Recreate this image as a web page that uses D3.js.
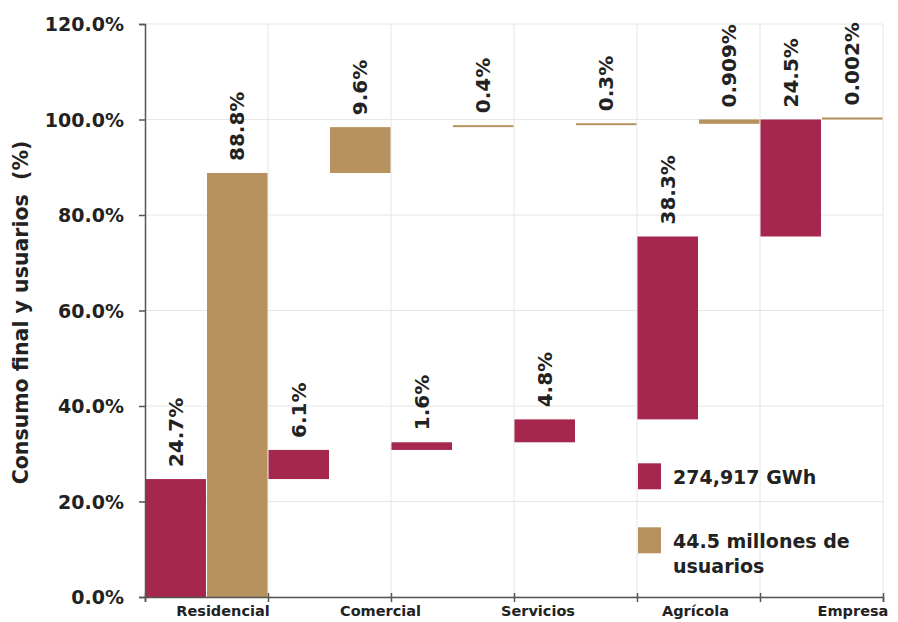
<!DOCTYPE html>
<html>
<head>
<meta charset="utf-8">
<script src="https://cdn.jsdelivr.net/npm/d3@7"></script>
<style>
  body { margin: 0; background: #fff; }
  text { font-family: "DejaVu Sans", sans-serif; font-weight: bold; fill: #222; }
</style>
</head>
<body>
<div id="chart"></div>
<script>
// consumo final (%) y usuarios (%) por sector
const consumo = [24.7, 6.1, 1.6, 4.8, 38.3, 24.5];
const usuarios = [88.8, 9.6, 0.4, 0.3, 0.909, 0.002];
const consumoLabels = ["24.7%", "6.1%", "1.6%", "4.8%", "38.3%", "24.5%"];
const usuariosLabels = ["88.8%", "9.6%", "0.4%", "0.3%", "0.909%", "0.002%"];
const axisLabels = ["Residencial", "Comercial", "Servicios", "Agrícola", "Empresa"];
const yTicks = [0, 20, 40, 60, 80, 100, 120];
const legendLabels = [["274,917 GWh"], ["44.5 millones de", "usuarios"]];

const W = 898, H = 622;
const margin = { top: 24, right: 15, bottom: 25, left: 145 };
const width = W - margin.left - margin.right,
  height = H - margin.top - margin.bottom;

const red = "#a5274d", tan = "#b7925f";

const svg = d3.select("#chart").append("svg")
  .attr("width", W).attr("height", H);
const g = svg.append("g").attr("transform", `translate(${margin.left},${margin.top})`);

// build waterfall pieces: each series stacks on itself
let acc1 = 0, acc2 = 0;
const bars = [];
consumo.forEach((v, i) => {
  bars.push({ slot: 2 * i, y0: acc1, y1: acc1 + v, color: red, label: consumoLabels[i] });
  acc1 += v;
  bars.push({ slot: 2 * i + 1, y0: acc2, y1: acc2 + usuarios[i], color: tan, label: usuariosLabels[i] });
  acc2 += usuarios[i];
});

const y = d3.scaleLinear().domain([0, 120]).range([height, 0]);
const x = d3.scaleBand().domain(d3.range(consumo.length * 2)).range([0, width]).padding(0);
const xg = d3.scaleLinear().domain([0, consumo.length]).range([0, width]);
const xl = d3.scalePoint().domain(axisLabels).range([78, 708]);

// grid
g.append("g").selectAll("line").data(yTicks).join("line")
  .attr("x1", 0).attr("x2", width)
  .attr("y1", d => y(d)).attr("y2", d => y(d))
  .attr("stroke", "#e6e6e6");
g.append("g").selectAll("line").data(d3.range(1, consumo.length + 1)).join("line")
  .attr("x1", d => xg(d)).attr("x2", d => xg(d))
  .attr("y1", 0).attr("y2", height)
  .attr("stroke", "#e6e6e6");

// bars
g.append("g").selectAll("rect").data(bars).join("rect")
  .attr("x", d => x(d.slot) + 0.5)
  .attr("width", x.bandwidth() - 1)
  .attr("y", d => Math.min(y(d.y1), y(d.y0) - 2))
  .attr("height", d => Math.max(2, y(d.y0) - y(d.y1)))
  .attr("fill", d => d.color);

// value labels (rotated)
g.append("g").selectAll("text").data(bars).join("text")
  .attr("transform", d => `translate(${x(d.slot) + x.bandwidth() / 2 + 7},${Math.min(y(d.y1), y(d.y0) - 2) - 12}) rotate(-90)`)
  .attr("font-size", 20)
  .text(d => d.label);

// y axis
const yAxis = g.append("g")
  .call(d3.axisLeft(y).tickValues(yTicks).tickFormat(d => d.toFixed(1) + "%").tickSize(6).tickPadding(15));
yAxis.select(".domain").attr("stroke", "#555").attr("stroke-width", 1.5);
yAxis.selectAll(".tick line").attr("stroke", "#555").attr("stroke-width", 1.5);
yAxis.selectAll(".tick text").attr("font-size", 19).attr("dy", "0.35em")
  .style("font-family", "DejaVu Sans").style("font-weight", "bold").attr("fill", "#222");

// x axis
const xAxis = g.append("g").attr("transform", `translate(0,${height})`)
  .call(d3.axisBottom(xg).tickValues(d3.range(consumo.length + 1)).tickFormat("").tickSize(5));
xAxis.select(".domain").attr("stroke", "#555").attr("stroke-width", 1.5);
xAxis.selectAll(".tick line").attr("stroke", "#555").attr("stroke-width", 1.5).attr("y1", -4);

g.append("g").selectAll("text").data(axisLabels).join("text")
  .attr("x", d => xl(d)).attr("y", height + 19)
  .attr("text-anchor", "middle").attr("font-size", 14.5)
  .attr("fill", "#333")
  .text(d => d);

// y title
svg.append("text")
  .attr("transform", `translate(28,${margin.top + y(60) + 2}) rotate(-90)`)
  .attr("text-anchor", "middle").attr("font-size", 20.5)
  .attr("xml:space", "preserve")
  .text("Consumo final y usuarios  (%)");

// legend
const legend = g.append("g").attr("transform", `translate(${xg(4) + 1},${y(28)})`);
legend.selectAll("rect").data([red, tan]).join("rect")
  .attr("x", 0).attr("y", (d, i) => i * 64)
  .attr("width", 23).attr("height", 26)
  .attr("fill", d => d);
legend.selectAll("text").data(legendLabels).join("text")
  .attr("x", 35).attr("y", (d, i) => i * 64 + 21)
  .attr("font-size", 19)
  .selectAll("tspan").data(d => d).join("tspan")
  .attr("x", 35).attr("dy", (d, i) => i === 0 ? 0 : 25)
  .text(d => d);
</script>
</body>
</html>
